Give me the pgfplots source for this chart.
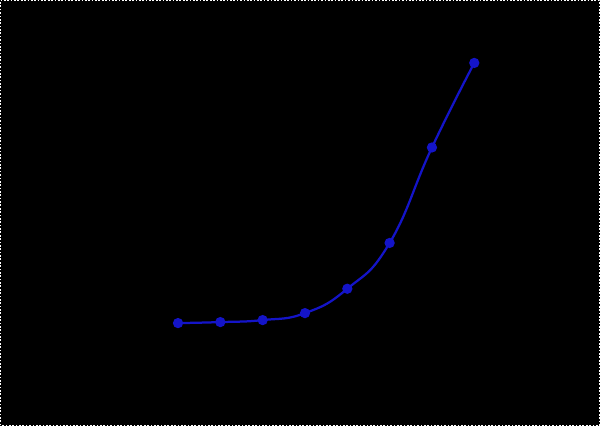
\documentclass[border=0pt]{standalone}
\usepackage{pgfplots}
\pgfplotsset{compat=1.18}
\definecolor{curveblue}{RGB}{20,20,200}

\begin{document}
\begin{tikzpicture}[x=1cm,y=1cm]
% page background as seen in the reference (1 px = 0.025 cm)
\fill[black] (0,0) rectangle (15,10.65);
\draw[white, line width=0.6pt, dash pattern=on 1.2pt off 1.2pt] (0.0125,0.0125) rectangle (14.9875,10.6375);

\begin{axis}[
    at={(3.3925cm,1.9225cm)},
    anchor=south west,
    scale only axis,
    width=9.5225cm,
    height=7.805cm,
    xmin=0, xmax=9,
    ymin=-10, ymax=110,
    axis line style={black},
    tick style={black},
    ticklabel style={black},
    xtick={1,...,8},
    ytick={0,20,...,100},
]
\addplot[curveblue, line width=1.6pt, smooth, tension=0.8,
         mark=*, mark size=2.8pt, mark options={fill=curveblue, draw=curveblue}]
  coordinates {(1,0.0) (2,0.38) (3,1.15) (4,3.83) (5,13.2) (6,30.8) (7,67.5) (8,100.0)};
\end{axis}
\end{tikzpicture}
\end{document}
